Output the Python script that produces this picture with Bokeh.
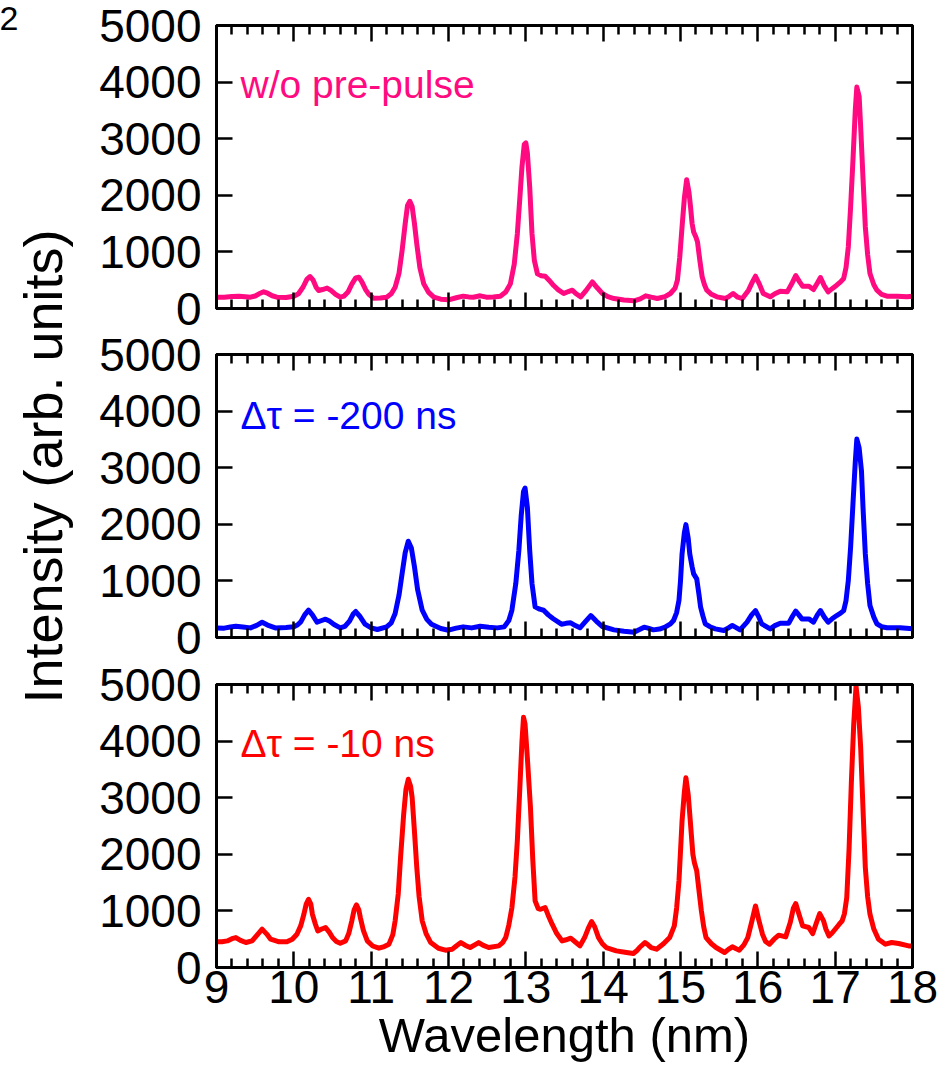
import math
from bokeh.plotting import figure
from bokeh.layouts import row, column
from bokeh.models import Range1d, LinearAxis, FixedTicker, Label, CustomLabelingPolicy
from bokeh.core.properties import value
from bokeh.embed import file_html
from bokeh.resources import INLINE

# ---------------- data ----------------
wl_top = [9.00, 9.10, 9.20, 9.29, 9.37, 9.44, 9.50, 9.55, 9.61, 9.66, 9.72, 9.78, 9.90, 10.00,
          10.06, 10.12, 10.17, 10.21, 10.25, 10.29, 10.32, 10.37, 10.43, 10.48, 10.54, 10.60, 10.65,
          10.70, 10.75, 10.80, 10.84, 10.88, 10.93, 10.97, 11.03, 11.12, 11.20, 11.26, 11.31, 11.36,
          11.40, 11.44, 11.47, 11.50, 11.53, 11.56, 11.59, 11.63, 11.68, 11.74, 11.81, 11.90, 12.00,
          12.10, 12.19, 12.26, 12.32, 12.41, 12.49, 12.58, 12.67, 12.74, 12.80, 12.85, 12.89, 12.92,
          12.95, 12.98, 13.00, 13.02, 13.05, 13.08, 13.11, 13.15, 13.20, 13.25, 13.30, 13.36, 13.42,
          13.49, 13.55, 13.60, 13.65, 13.71, 13.78, 13.86, 13.92, 13.99, 14.06, 14.14, 14.27, 14.40,
          14.48, 14.55, 14.62, 14.70, 14.80, 14.87, 14.93, 14.96, 14.99, 15.02, 15.05, 15.08, 15.11,
          15.13, 15.15, 15.17, 15.20, 15.22, 15.25, 15.28, 15.31, 15.34, 15.40, 15.47, 15.58, 15.63,
          15.68, 15.74, 15.80, 15.88, 15.93, 15.97, 16.02, 16.07, 16.16, 16.22, 16.29, 16.38, 16.44,
          16.49, 16.54, 16.58, 16.66, 16.72, 16.77, 16.81, 16.86, 16.91, 16.96, 17.02, 17.07, 17.11,
          17.14, 17.17, 17.20, 17.23, 17.26, 17.28, 17.31, 17.33, 17.36, 17.39, 17.42, 17.45, 17.50,
          17.54, 17.60, 17.67, 17.80, 17.93, 18.00]
int_top = [200, 200, 212, 218, 208, 200, 220, 260, 295, 270, 225, 200, 195, 218,
           260, 380, 520, 565, 500, 370, 318, 335, 360, 320, 250, 200, 220,
           290, 430, 540, 553, 470, 330, 250, 182, 185, 200, 260, 376, 620,
           1024, 1500, 1820, 1894, 1800, 1500, 1141, 720, 435, 290, 200, 165, 153,
           190, 218, 205, 200, 224, 200, 205, 218, 290, 435, 780, 1318, 1900,
           2500, 2900, 2924, 2750, 2150, 1318, 850, 612, 580, 570, 500, 406, 330,
           265, 300, 324, 260, 206, 320, 470, 370, 265, 210, 176, 150, 135,
           170, 224, 200, 176, 210, 265, 360, 500, 900, 1441, 1950, 2276, 2050,
           1794, 1500, 1353, 1260, 1176, 850, 560, 420, 324, 250, 206, 176, 215,
           265, 200, 176, 324, 470, 570, 430, 265, 206, 260, 306, 294, 440,
           582, 470, 394, 394, 335, 450, 547, 400, 294, 350, 412, 470, 530,
           720, 1088, 1800, 2618, 3500, 3912, 3750, 3206, 2300, 1441, 950, 618, 420,
           324, 250, 218, 218, 206, 218]

wl_mid = [9.00, 9.10, 9.18, 9.25, 9.34, 9.44, 9.52, 9.59, 9.66, 9.76, 9.90, 10.00, 10.05, 10.09,
          10.14, 10.19, 10.24, 10.30, 10.36, 10.41, 10.46, 10.52, 10.60, 10.66, 10.72, 10.77, 10.80,
          10.85, 10.92, 11.00, 11.08, 11.20, 11.26, 11.31, 11.36, 11.40, 11.44, 11.48, 11.52, 11.56,
          11.60, 11.66, 11.72, 11.78, 11.90, 12.00, 12.10, 12.19, 12.30, 12.41, 12.52, 12.63, 12.72,
          12.78, 12.82, 12.87, 12.91, 12.94, 12.97, 12.99, 13.02, 13.05, 13.08, 13.12, 13.18, 13.23,
          13.29, 13.35, 13.46, 13.52, 13.58, 13.64, 13.70, 13.77, 13.84, 13.91, 13.99, 14.14, 14.27,
          14.40, 14.47, 14.53, 14.59, 14.65, 14.73, 14.80, 14.87, 14.91, 14.95, 14.98, 15.00, 15.02,
          15.05, 15.07, 15.10, 15.12, 15.15, 15.17, 15.21, 15.24, 15.26, 15.29, 15.32, 15.38, 15.45,
          15.56, 15.62, 15.67, 15.72, 15.77, 15.86, 15.92, 15.97, 16.01, 16.05, 16.16, 16.22, 16.29,
          16.40, 16.45, 16.49, 16.53, 16.57, 16.66, 16.72, 16.77, 16.81, 16.86, 16.91, 16.96, 17.02,
          17.07, 17.11, 17.14, 17.17, 17.20, 17.23, 17.26, 17.28, 17.31, 17.34, 17.36, 17.39, 17.42,
          17.45, 17.50, 17.54, 17.60, 17.67, 17.84, 18.00]
int_mid = [170, 165, 185, 200, 185, 170, 215, 270, 220, 170, 175, 188, 225, 276,
           400, 482, 400, 270, 300, 324, 290, 230, 170, 195, 290, 420, 459,
           380, 235, 170, 141, 188, 260, 424, 750, 1129, 1500, 1700, 1580, 1247,
           850, 482, 320, 235, 160, 129, 165, 188, 170, 200, 180, 170, 188,
           300, 482, 950, 1541, 2150, 2580, 2640, 2300, 1541, 950, 541, 500, 482,
           400, 335, 235, 250, 259, 210, 171, 280, 388, 290, 194, 135, 110,
           94, 140, 182, 160, 135, 150, 182, 240, 300, 440, 653, 1000, 1476,
           1850, 1994, 1750, 1476, 1250, 1124, 1035, 750, 535, 380, 241, 190, 153,
           124, 170, 212, 175, 135, 271, 400, 476, 370, 241, 153, 210, 253,
           253, 380, 465, 400, 329, 329, 271, 400, 476, 360, 271, 330, 388,
           430, 476, 650, 1006, 1600, 2359, 3100, 3506, 3350, 2947, 2300, 1476, 950,
           565, 360, 241, 190, 171, 171, 153]

wl_bot = [9.00, 9.07, 9.14, 9.20, 9.25, 9.31, 9.38, 9.46, 9.53, 9.59, 9.65, 9.70, 9.81, 9.91,
          9.98, 10.04, 10.09, 10.13, 10.16, 10.19, 10.22, 10.24, 10.28, 10.31, 10.36, 10.41, 10.46,
          10.50, 10.55, 10.60, 10.67, 10.71, 10.75, 10.78, 10.81, 10.84, 10.86, 10.90, 10.95, 11.02,
          11.10, 11.17, 11.23, 11.28, 11.31, 11.35, 11.38, 11.42, 11.45, 11.48, 11.51, 11.53, 11.56,
          11.59, 11.62, 11.66, 11.71, 11.77, 11.87, 11.96, 12.05, 12.10, 12.16, 12.22, 12.28, 12.34,
          12.39, 12.45, 12.52, 12.65, 12.70, 12.74, 12.78, 12.82, 12.86, 12.89, 12.92, 12.95, 12.97,
          12.99, 13.02, 13.06, 13.09, 13.12, 13.16, 13.19, 13.25, 13.29, 13.34, 13.40, 13.47, 13.52,
          13.58, 13.64, 13.70, 13.76, 13.81, 13.85, 13.89, 13.94, 13.99, 14.04, 14.17, 14.28, 14.39,
          14.43, 14.47, 14.54, 14.58, 14.62, 14.69, 14.78, 14.86, 14.92, 14.95, 14.98, 15.00, 15.02,
          15.05, 15.07, 15.10, 15.12, 15.14, 15.16, 15.18, 15.21, 15.24, 15.27, 15.30, 15.33, 15.40,
          15.46, 15.57, 15.62, 15.67, 15.72, 15.76, 15.82, 15.87, 15.92, 15.97, 16.01, 16.06, 16.10,
          16.15, 16.21, 16.27, 16.36, 16.42, 16.46, 16.49, 16.53, 16.58, 16.66, 16.71, 16.76, 16.80,
          16.85, 16.88, 16.92, 16.96, 17.00, 17.05, 17.09, 17.12, 17.15, 17.18, 17.21, 17.24, 17.27,
          17.30, 17.33, 17.36, 17.39, 17.42, 17.45, 17.50, 17.56, 17.65, 17.73, 17.82, 17.95, 18.00]
int_bot = [453, 455, 470, 510, 529, 480, 441, 470, 580, 676, 590, 500, 453, 453,
           500, 588, 740, 941, 1120, 1206, 1120, 941, 760, 647, 680, 706, 620,
           529, 460, 429, 470, 600, 824, 1020, 1106, 1020, 882, 650, 470, 380,
           341, 370, 412, 580, 824, 1300, 1941, 2700, 3150, 3325, 3200, 3000, 2400,
           1765, 1250, 824, 600, 441, 340, 306, 324, 380, 441, 390, 353, 400,
           441, 390, 353, 382, 440, 529, 750, 1059, 1600, 2235, 3100, 4000, 4420,
           4300, 3700, 2824, 1900, 1176, 1040, 1029, 1059, 920, 765, 600, 470, 490,
           518, 450, 382, 529, 700, 812, 720, 529, 420, 353, 294, 270, 247,
           290, 353, 441, 400, 353, 324, 420, 529, 735, 1050, 1529, 2050, 2588,
           3100, 3353, 3050, 2706, 2350, 2000, 1850, 1706, 1350, 1000, 720, 529, 420,
           353, 265, 320, 365, 330, 306, 400, 529, 800, 1088, 850, 588, 460,
           412, 500, 571, 541, 800, 1050, 1129, 950, 735, 706, 600, 800, 953,
           824, 680, 559, 610, 676, 760, 824, 950, 1235, 2100, 3294, 4300, 4970,
           4600, 3882, 2800, 1765, 1250, 941, 680, 500, 412, 441, 424, 382, 382]

panel_labels = ["w/o pre-pulse", "\u0394\u03c4 = -200 ns", "\u0394\u03c4 = -10 ns"]
panel_colors = ["#ff0a80", "#0000ff", "#ff0000"]

x_major_ticks = [9, 10, 11, 12, 13, 14, 15, 16, 17, 18]
x_minor_ticks = [9.2, 9.4, 9.6, 9.8, 10.2, 10.4, 10.6, 10.8, 11.2, 11.4, 11.6, 11.8,
                 12.2, 12.4, 12.6, 12.8, 13.2, 13.4, 13.6, 13.8, 14.2, 14.4, 14.6, 14.8,
                 15.2, 15.4, 15.6, 15.8, 16.2, 16.4, 16.6, 16.8, 17.2, 17.4, 17.6, 17.8]
y_ticks = [0, 1000, 2000, 3000, 4000, 5000]

x_title = "Wavelength (nm)"
y_title = "Intensity (arb. units)"
corner_text = "2"

FONT = "Liberation Sans"


def style_axis(ax, ticks, minor, show_labels, font_size="46px"):
    ax.ticker = FixedTicker(ticks=ticks, minor_ticks=minor)
    ax.axis_line_color = "black"
    ax.axis_line_width = 3
    ax.major_tick_line_color = "black"
    ax.major_tick_line_width = 2.5
    ax.minor_tick_line_color = "black"
    ax.minor_tick_line_width = 2.5
    ax.major_tick_in = 16
    ax.major_tick_out = 0
    ax.minor_tick_in = 9
    ax.minor_tick_out = 0
    ax.major_label_text_font = FONT
    ax.major_label_text_color = "black"
    if show_labels:
        ax.major_label_text_font_size = font_size
    else:
        # tick marks only: no tick labels are drawn on these edges
        ax.major_label_text_font_size = "0px"
        ax.major_label_standoff = 0
        ax.major_label_policy = CustomLabelingPolicy(code="""
            for (const i of Array.from(indices)) { indices.unset(i) }
            return indices
        """)


def make_panel(wl, inten, color, label, label_y, top_b, bottom_b, last, margin_top):
    p = figure(frame_width=696, frame_height=283,
               min_border_left=141, min_border_right=29,
               min_border_top=top_b, min_border_bottom=bottom_b,
               x_range=Range1d(9, 18), y_range=Range1d(0, 5000),
               output_backend="svg", toolbar_location=None)
    p.margin = (margin_top, 0, 0, 0)
    p.grid.visible = False
    p.outline_line_color = "black"
    p.outline_line_width = 3
    p.background_fill_color = "white"
    p.border_fill_color = None

    p.line(wl, inten, line_color=color, line_width=5, line_join="round", line_cap="round")

    xa = p.xaxis[0]
    style_axis(xa, x_major_ticks, x_minor_ticks, last)
    if last:
        xa.major_label_standoff = 3
        xa.axis_label = x_title
        xa.axis_label_text_font = FONT
        xa.axis_label_text_font_size = "49px"
        xa.axis_label_text_font_style = "normal"
        xa.axis_label_text_color = "black"
        xa.axis_label_standoff = 2
    ya = p.yaxis[0]
    style_axis(ya, y_ticks, [], True)
    ya.major_label_standoff = 15

    top = LinearAxis()
    style_axis(top, x_major_ticks, x_minor_ticks, False)
    p.add_layout(top, "above")
    right = LinearAxis()
    style_axis(right, y_ticks, [], False)
    p.add_layout(right, "right")

    p.add_layout(Label(x=9.31, y=label_y, text=label, text_color=color,
                       text_font=FONT, text_font_size="39px",
                       text_baseline="alphabetic", text_align="left"))
    return p


# frames: top 25-308, middle 354-637, bottom 684-967 (page pixels)
f1 = make_panel(wl_top, int_top, panel_colors[0], panel_labels[0], 3950, 25, 40, False, 0)
f2 = make_panel(wl_mid, int_mid, panel_colors[1], panel_labels[1], 3920, 42, 40, False, -36)
f3 = make_panel(wl_bot, int_bot, panel_colors[2], panel_labels[2], 3960, 42, 111, True, -35)

# left strip for the shared y-axis title
t = figure(width=75, height=1078, x_range=Range1d(0, 75), y_range=Range1d(0, 1078),
           min_border=0, x_axis_location=None, y_axis_location=None, title=None,
           output_backend="svg", toolbar_location=None)
t.grid.visible = False
t.outline_line_color = None
t.text(x=[42], y=[612], text=[y_title], angle=math.pi / 2,
       text_align="center", text_baseline="middle",
       text_font=value(FONT), text_font_size="54px", text_color="black")
t.text(x=[-1], y=[1060], text=[corner_text], text_align="left", text_baseline="alphabetic",
       text_font=value(FONT), text_font_size="34px", text_color="black")

layout = row(t, column(f1, f2, f3))

open("out.html", "w").write(file_html(layout, INLINE))
